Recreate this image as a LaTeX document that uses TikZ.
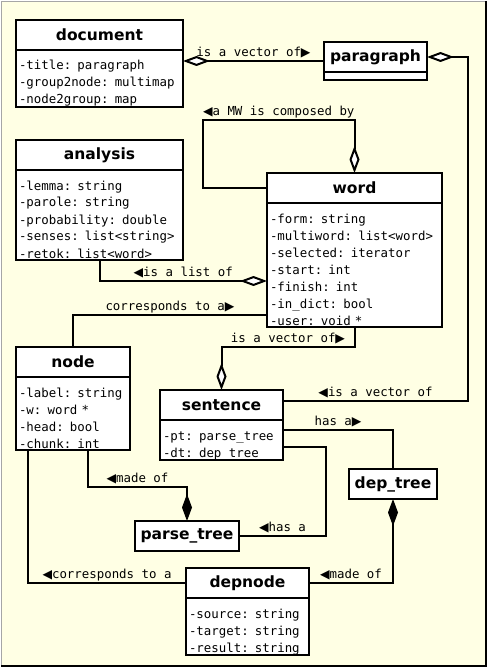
\documentclass[tikz,border=0pt]{standalone}
\usepackage{fontspec}
\setsansfont{DejaVu Sans}
\setmonofont{DejaVu Sans Mono}
\newfontfamily\symfont{DejaVu Sans}
\usetikzlibrary{arrows.meta, calc}
\definecolor{paper}{RGB}{255,255,228}
\newcommand\rtri{{\symfont ▶}}
\newcommand\ltri{{\symfont ◀}}
\tikzset{
    classhead/.style={draw, fill=white, line width=2pt, anchor=north west, outer sep=0pt,
        minimum height=30pt, inner sep=0pt, font=\fontsize{15.5}{18}\sffamily\bfseries},
    classbody/.style={draw, fill=white, line width=2pt, anchor=north west, outer sep=0pt,
        align=left, inner xsep=3pt, inner ysep=0pt,
        font=\fontsize{12.4}{17}\ttfamily,
        execute at begin node={\rule{0pt}{20pt}},
        execute at end node={\rule[-2pt]{0pt}{2pt}}},
    assoc/.style={line width=2pt},
    aggr/.style={assoc, -{Diamond[fill=white, length=27pt, width=10pt]}},
    comp/.style={assoc, -{Diamond[length=27pt, width=10pt]}},
    lab/.style={above, inner sep=1pt, text depth=2.5pt, font=\fontsize{12.4}{15}\ttfamily}
}

\begin{document}
\begin{tikzpicture}[x=1pt, y=-1pt]
    \useasboundingbox (0,0) rectangle (488,668);
    \fill[paper] (1,1) rectangle (485,666);
    \draw[gray!70, line width=0.8pt] (1,666) -- (1,1) -- (485,1);
    \draw[line width=2pt] (485.5,1) -- (485.5,666) -- (1,666);
    % classes
    \node[classhead, minimum width=167pt] (doc) at (16,20) {document};
    \node[classbody, text width=161pt] (docB) at (doc.south west) {-title: paragraph\\-group2node: multimap\\-node2group: map};
    \node[classhead, minimum width=103pt] (par) at (324,42) {paragraph};
    \node[classhead, minimum width=103pt, minimum height=8pt] (parB) at (par.south west) {};
    \node[classhead, minimum width=167pt] (ana) at (16,140) {analysis};
    \node[classbody, text width=161pt] (anaB) at (ana.south west) {-lemma: string\\-parole: string\\-probability: double\\-senses: list<string>\\-retok: list<word>};
    \node[classhead, minimum width=175pt] (word) at (267,173) {word};
    \node[classbody, text width=169pt] (wordB) at (word.south west) {-form: string\\-multiword: list<word>\\-selected: iterator\\-start: int\\-finish: int\\-in\_dict: bool\\-user: void *};
    \node[classhead, minimum width=114pt] (nde) at (16,347) {node};
    \node[classbody, text width=108pt] (ndeB) at (nde.south west) {-label: string\\-w: word *\\-head: bool\\-chunk: int};
    \node[classhead, minimum width=123pt] (sent) at (160,390) {sentence};
    \node[classbody, text width=117pt] (sentB) at (sent.south west) {-pt: parse\_tree\\-dt: dep\_tree};
    \node[classhead, minimum width=88pt] (dtree) at (349,469) {dep\_tree};
    \node[classhead, minimum width=104pt] (ptree) at (135,521) {parse\_tree};
    \node[classhead, minimum width=123pt] (dnode) at (186,568) {depnode};
    \node[classbody, text width=117pt] (dnodeB) at (dnode.south west) {-source: string\\-target: string\\-result: string};
    \coordinate (parM) at ($(par.north west)!0.5!(parB.south west)$);
    % relations
    \draw[aggr] (parM) -- node[lab, midway]{is a vector of\rtri} (parM -| doc.east);
    \draw[aggr] ([yshift=4pt]sent.east) -| node[lab, pos=0.25]{\ltri is a vector of} ([xshift=41pt]par.east) -- (par.east);
    \draw[aggr] (word.west) -- ++(-64,0) |- node[lab, pos=0.75]{\ltri a MW is composed by} ([yshift=53pt]word.north) -- (word.north);
    \draw[aggr] (anaB.south) |- node[lab, pos=0.75]{\ltri is a list of} ([yshift=-16pt]wordB.west);
    \draw[assoc] (nde.north) |- node[lab, pos=0.75]{corresponds to a\rtri} ([yshift=-50pt]wordB.west);
    \draw[aggr] (wordB.south) -- ++(0,20) -| node[lab, pos=0.25]{is a vector of\rtri} (sent.north);
    \draw[assoc] ([yshift=-10pt]sentB.north east) -| node[lab, pos=0.25]{has a\rtri} (dtree.north);
    \draw[assoc] ([yshift=-27pt]sentB.north east) -- ++(43,0) |- node[lab, pos=0.75]{\ltri has a} (ptree.east);
    \draw[comp] ([xshift=15pt]ndeB.south) -- ++(0,37) -| node[lab, pos=0.25]{\ltri made of} (ptree.north);
    \draw[assoc] ([xshift=-45pt]ndeB.south) |- node[lab, pos=0.75]{\ltri corresponds to a} (dnode.west);
    \draw[comp] (dnode.east) -| node[lab, pos=0.25]{\ltri made of} (dtree.south);
\end{tikzpicture}
\end{document}
